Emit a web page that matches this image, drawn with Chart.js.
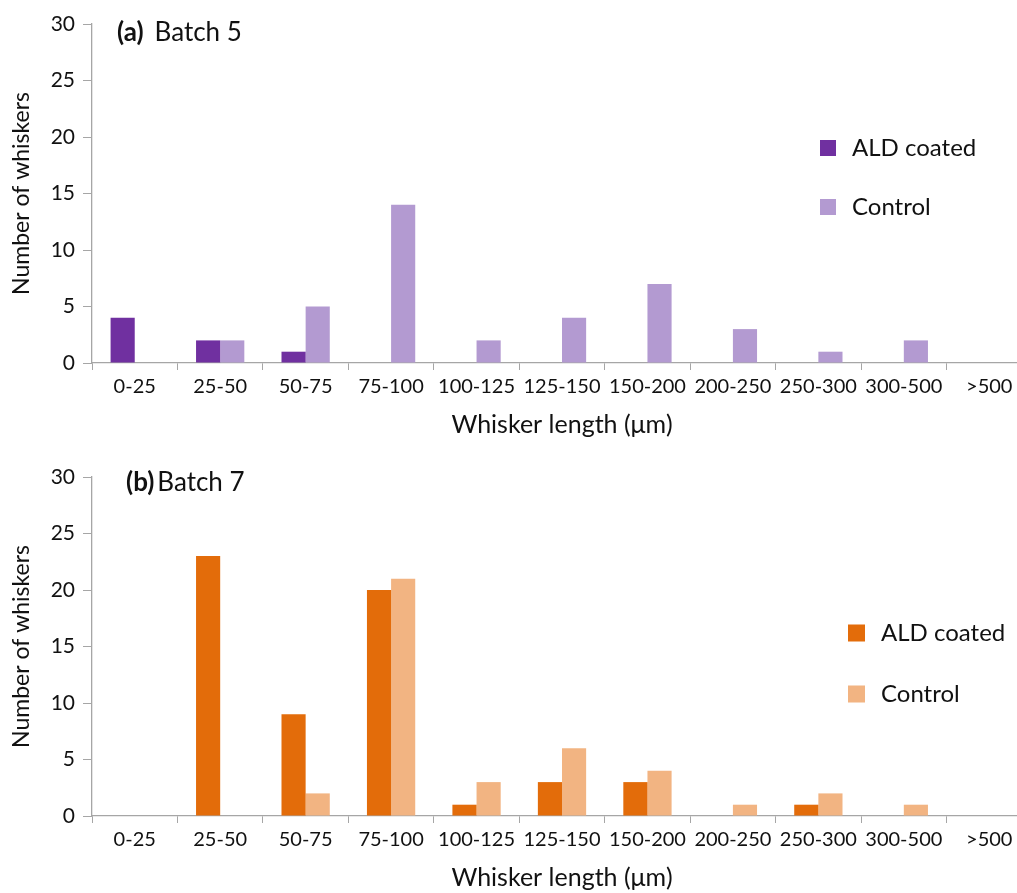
<!DOCTYPE html>
<html>
<head>
<meta charset="utf-8">
<script src="https://cdn.jsdelivr.net/npm/chart.js@4/dist/chart.umd.min.js"></script>
<style>
  html, body { margin: 0; padding: 0; background: #fff; overflow: hidden; width: 1017px; height: 893px; }
  .panel { position: absolute; left: 0; width: 1032px; height: 440px; }
  #panelA { top: 0; }
  #panelB { top: 453px; }
</style>
</head>
<body>
<div class="panel" id="panelA"><canvas id="chartA"></canvas></div>
<div class="panel" id="panelB"><canvas id="chartB"></canvas></div>
<script>
// Whisker length bins (µm)
const lengthBins = ['0-25', '25-50', '50-75', '75-100', '100-125', '125-150', '150-200', '200-250', '250-300', '300-500', '>500'];

// Batch 5 counts
const batch5Coated  = [4, 2, 1, 0, 0, 0, 0, 0, 0, 0, 0];
const batch5Control = [0, 2, 5, 14, 2, 4, 7, 3, 1, 2, 0];

// Batch 7 counts
const batch7Coated  = [0, 23, 9, 20, 1, 3, 3, 0, 1, 0, 0];
const batch7Control = [0, 0, 2, 21, 3, 6, 4, 1, 2, 1, 0];

const yTicks = [0, 5, 10, 15, 20, 25, 30];

const FONT = 'Lato, "Open Sans", sans-serif';
const AXIS_GREY = '#a6a6a6';
const TEXT = '#111';

// Panel heading, e.g. "(a) Batch 5" with the letter in bold
const headingPlugin = {
  id: 'panelHeading',
  afterDraw(chart, args, opts) {
    const ctx = chart.ctx;
    ctx.save();
    ctx.fillStyle = TEXT;
    ctx.textBaseline = 'middle';
    ctx.textAlign = 'left';
    ctx.font = 'bold ' + opts.size + 'px ' + FONT;
    ctx.fillText(opts.tag, opts.x, opts.y);
    const w = ctx.measureText(opts.tag).width;
    ctx.font = opts.size + 'px ' + FONT;
    ctx.fillText(opts.text, opts.x + w + opts.gap, opts.y);
    ctx.restore();
  }
};

// Vertical legend placed inside the plot area
const innerLegendPlugin = {
  id: 'innerLegend',
  afterDraw(chart, args, opts) {
    const ctx = chart.ctx;
    ctx.save();
    ctx.font = opts.size + 'px ' + FONT;
    ctx.textBaseline = 'middle';
    ctx.textAlign = 'left';
    chart.data.datasets.forEach((ds, i) => {
      const cy = opts.y + i * opts.spacing;
      ctx.fillStyle = ds.backgroundColor;
      ctx.fillRect(opts.x, cy - opts.box / 2, opts.box, opts.box);
      ctx.fillStyle = TEXT;
      ctx.fillText(ds.label, opts.x + opts.box + opts.gap, cy);
    });
    ctx.restore();
  }
};

function makeChart(canvasId, coated, control, colors, heading, legend) {
  return new Chart(document.getElementById(canvasId), {
    type: 'bar',
    data: {
      labels: lengthBins,
      datasets: [
        { label: 'ALD coated', data: coated, backgroundColor: colors[0] },
        { label: 'Control', data: control, backgroundColor: colors[1] }
      ]
    },
    options: {
      responsive: true,
      maintainAspectRatio: false,
      animation: false,
      devicePixelRatio: 1,
      layout: { padding: { top: 24, right: 0, left: 0, bottom: 0 } },
      categoryPercentage: 0.565,
      barPercentage: 1.0,
      plugins: {
        legend: { display: false },
        tooltip: { enabled: false },
        panelHeading: heading,
        innerLegend: legend
      },
      scales: {
        x: {
          grid: {
            display: true,
            drawOnChartArea: false,
            drawTicks: true,
            tickLength: 7,
            color: AXIS_GREY,
            offset: true
          },
          border: { display: true, color: AXIS_GREY, width: 1.3 },
          ticks: {
            color: TEXT,
            font: { family: FONT, size: 20 },
            padding: 5,
            maxRotation: 0,
            autoSkip: false
          },
          title: {
            display: true,
            text: 'Whisker length (\u03bcm)',
            color: TEXT,
            font: { family: FONT, size: 25 },
            padding: { top: 4, bottom: 0 }
          },
          afterFit(scale) { scale.height = 77; }
        },
        y: {
          min: 0,
          max: 30,
          afterBuildTicks(scale) { scale.ticks = yTicks.map(v => ({ value: v })); },
          grid: {
            display: true,
            drawOnChartArea: false,
            drawTicks: true,
            tickLength: 9,
            color: AXIS_GREY
          },
          border: { display: true, color: AXIS_GREY, width: 1.3 },
          ticks: {
            color: TEXT,
            font: { family: FONT, size: 21 },
            padding: 8
          },
          title: {
            display: true,
            text: 'Number of whiskers',
            color: TEXT,
            font: { family: FONT, size: 23 },
            padding: { top: 8, bottom: 6 }
          },
          afterFit(scale) { scale.width = 92; }
        }
      }
    },
    plugins: [headingPlugin, innerLegendPlugin]
  });
}

makeChart('chartA', batch5Coated, batch5Control, ['#7030a0', '#b39ad1'],
  { tag: '(a)', text: 'Batch 5', x: 117, y: 33, size: 26, gap: 11 },
  { x: 820, y: 148, spacing: 59, box: 16, gap: 16, size: 24 });

makeChart('chartB', batch7Coated, batch7Control, ['#e36c0a', '#f2b482'],
  { tag: '(b)', text: 'Batch 7', x: 126, y: 30, size: 26, gap: 3 },
  { x: 848, y: 180, spacing: 61, box: 17, gap: 16, size: 24 });
</script>
</body>
</html>
